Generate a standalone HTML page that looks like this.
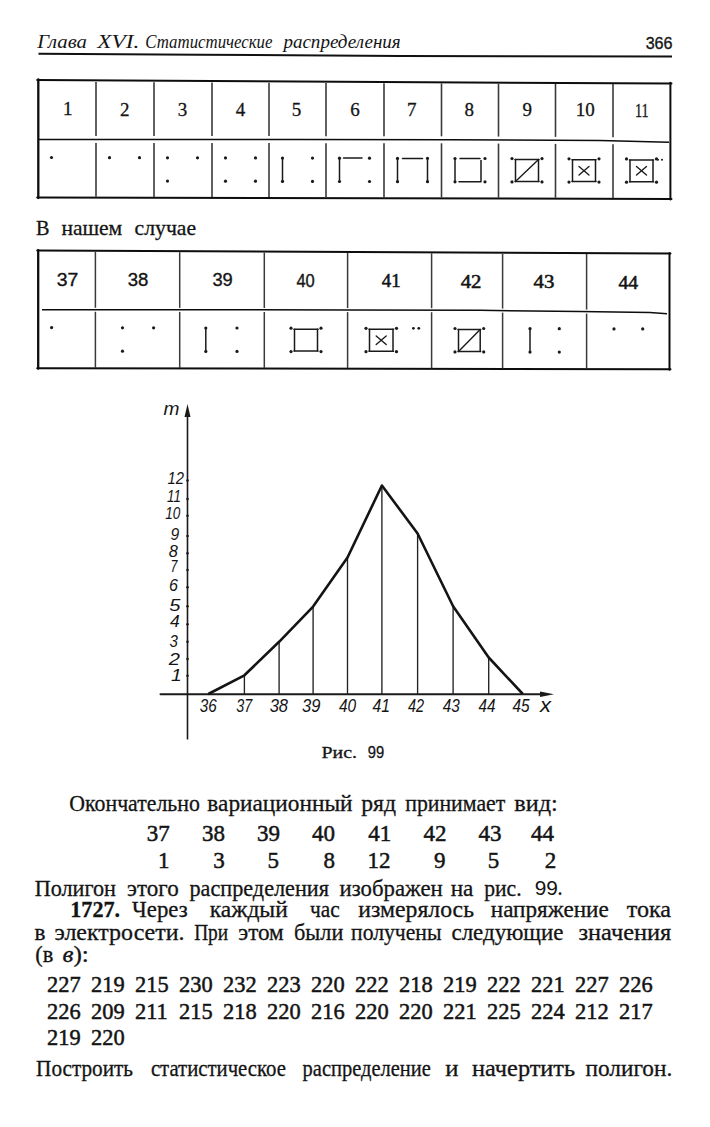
<!DOCTYPE html>
<html><head><meta charset="utf-8"><title>page</title>
<style>
html,body{margin:0;padding:0;background:#fff;}
body{width:710px;height:1127px;overflow:hidden;position:relative;}
svg{position:absolute;left:0;top:0;display:block;font-family:"Liberation Serif", serif;}
svg text{fill:#141414;stroke:#141414;stroke-width:0.3px;}
</style></head><body>
<svg width="710" height="1127" viewBox="0 0 710 1127">
<rect width="710" height="1127" fill="#ffffff"/>
<text x="37.32" y="48.4" font-size="19.5" style='stroke-width:0px;' font-style="italic" textLength="49.58" lengthAdjust="spacingAndGlyphs">Глава</text>
<text x="97.34" y="48.4" font-size="19.5" style='stroke-width:0px;' font-style="italic" textLength="42.11" lengthAdjust="spacingAndGlyphs">XVI.</text>
<text x="145.34" y="48.4" font-size="19.5" style='stroke-width:0px;' font-style="italic" textLength="127.15" lengthAdjust="spacingAndGlyphs">Статистические</text>
<text x="283.40" y="48.4" font-size="19.5" style='stroke-width:0px;' font-style="italic" textLength="117.33" lengthAdjust="spacingAndGlyphs">распределения</text>
<text x="645.65" y="49.0" font-size="17" style='font-family:"Liberation Sans", sans-serif;stroke-width:0.35px;' textLength="26.88" lengthAdjust="spacingAndGlyphs">366</text>
<polyline points="38.5,53.7 200,54.8 400,55.9 672,56.5" fill="none" stroke="#111" stroke-width="2"/>
<line x1="37.2" y1="80.0" x2="671.5" y2="83.6" stroke="#0d0d0d" stroke-width="2" stroke-linecap="round"/>
<polyline points="38,139.4 300,139.6 450,139.8 600,140.6 669,142.2" fill="none" stroke="#0d0d0d" stroke-width="1.5"/>
<line x1="37.2" y1="197.6" x2="671.5" y2="198.9" stroke="#0d0d0d" stroke-width="2" stroke-linecap="round"/>
<line x1="38.3" y1="79.3" x2="38.3" y2="198.1" stroke="#0d0d0d" stroke-width="2.3" stroke-linecap="round"/>
<line x1="670.4" y1="82.8" x2="670.4" y2="199.6" stroke="#0d0d0d" stroke-width="2" stroke-linecap="round"/>
<line x1="96.0" y1="82.0" x2="96.0" y2="136.0" stroke="#3a3a3a" stroke-width="1.6" stroke-linecap="butt"/>
<line x1="96.0" y1="143.0" x2="96.0" y2="196.7" stroke="#3a3a3a" stroke-width="1.6" stroke-linecap="butt"/>
<line x1="154.0" y1="82.3" x2="154.0" y2="136.0" stroke="#3a3a3a" stroke-width="1.6" stroke-linecap="butt"/>
<line x1="154.0" y1="143.0" x2="154.0" y2="196.9" stroke="#3a3a3a" stroke-width="1.6" stroke-linecap="butt"/>
<line x1="212.0" y1="82.5" x2="212.0" y2="136.1" stroke="#3a3a3a" stroke-width="1.6" stroke-linecap="butt"/>
<line x1="212.0" y1="143.1" x2="212.0" y2="197.0" stroke="#3a3a3a" stroke-width="1.6" stroke-linecap="butt"/>
<line x1="269.0" y1="82.7" x2="269.0" y2="136.1" stroke="#3a3a3a" stroke-width="1.6" stroke-linecap="butt"/>
<line x1="269.0" y1="143.1" x2="269.0" y2="197.1" stroke="#3a3a3a" stroke-width="1.6" stroke-linecap="butt"/>
<line x1="326.0" y1="82.9" x2="326.0" y2="136.2" stroke="#3a3a3a" stroke-width="1.6" stroke-linecap="butt"/>
<line x1="326.0" y1="143.2" x2="326.0" y2="197.3" stroke="#3a3a3a" stroke-width="1.6" stroke-linecap="butt"/>
<line x1="384.0" y1="83.2" x2="384.0" y2="136.2" stroke="#3a3a3a" stroke-width="1.6" stroke-linecap="butt"/>
<line x1="384.0" y1="143.2" x2="384.0" y2="197.4" stroke="#3a3a3a" stroke-width="1.6" stroke-linecap="butt"/>
<line x1="441.5" y1="83.4" x2="441.5" y2="136.3" stroke="#3a3a3a" stroke-width="1.6" stroke-linecap="butt"/>
<line x1="441.5" y1="143.3" x2="441.5" y2="197.6" stroke="#3a3a3a" stroke-width="1.6" stroke-linecap="butt"/>
<line x1="498.5" y1="83.6" x2="498.5" y2="136.6" stroke="#3a3a3a" stroke-width="1.6" stroke-linecap="butt"/>
<line x1="498.5" y1="143.6" x2="498.5" y2="197.7" stroke="#3a3a3a" stroke-width="1.6" stroke-linecap="butt"/>
<line x1="555.5" y1="83.8" x2="555.5" y2="136.9" stroke="#3a3a3a" stroke-width="1.6" stroke-linecap="butt"/>
<line x1="555.5" y1="143.9" x2="555.5" y2="197.8" stroke="#3a3a3a" stroke-width="1.6" stroke-linecap="butt"/>
<line x1="613.0" y1="84.1" x2="613.0" y2="137.2" stroke="#3a3a3a" stroke-width="1.6" stroke-linecap="butt"/>
<line x1="613.0" y1="144.2" x2="613.0" y2="198.0" stroke="#3a3a3a" stroke-width="1.6" stroke-linecap="butt"/>
<text x="67.70" y="115.4" font-size="19" text-anchor="middle">1</text>
<text x="124.70" y="115.5" font-size="19" text-anchor="middle">2</text>
<text x="182.40" y="115.6" font-size="19" text-anchor="middle">3</text>
<text x="240.50" y="115.7" font-size="19" text-anchor="middle">4</text>
<text x="296.50" y="115.8" font-size="19" text-anchor="middle">5</text>
<text x="355.10" y="115.9" font-size="19" text-anchor="middle">6</text>
<text x="411.70" y="116.0" font-size="19" text-anchor="middle">7</text>
<text x="469.20" y="116.2" font-size="19" text-anchor="middle">8</text>
<text x="527.20" y="116.3" font-size="19" text-anchor="middle">9</text>
<text x="585.30" y="116.4" font-size="19" text-anchor="middle">10</text>
<text x="635.01" y="116.5" font-size="19" textLength="13.66" lengthAdjust="spacingAndGlyphs">11</text>
<circle cx="51.5" cy="157.5" r="1.6" fill="#1a1a1a"/>
<circle cx="109.5" cy="157.7" r="1.6" fill="#1a1a1a"/>
<circle cx="139.5" cy="157.7" r="1.6" fill="#1a1a1a"/>
<circle cx="167.5" cy="157.8" r="1.6" fill="#1a1a1a"/>
<circle cx="197.5" cy="157.8" r="1.6" fill="#1a1a1a"/>
<circle cx="167.5" cy="181.1" r="1.6" fill="#1a1a1a"/>
<circle cx="225.5" cy="157.9" r="1.6" fill="#1a1a1a"/>
<circle cx="255.5" cy="157.9" r="1.6" fill="#1a1a1a"/>
<circle cx="225.5" cy="181.2" r="1.6" fill="#1a1a1a"/>
<circle cx="255.5" cy="181.2" r="1.6" fill="#1a1a1a"/>
<circle cx="282.5" cy="158.1" r="1.6" fill="#1a1a1a"/>
<circle cx="312.5" cy="158.1" r="1.6" fill="#1a1a1a"/>
<circle cx="282.5" cy="181.4" r="1.6" fill="#1a1a1a"/>
<circle cx="312.5" cy="181.4" r="1.6" fill="#1a1a1a"/>
<line x1="282.5" y1="158.1" x2="282.5" y2="181.4" stroke="#1a1a1a" stroke-width="1.5" stroke-linecap="round"/>
<circle cx="339.5" cy="158.2" r="1.6" fill="#1a1a1a"/>
<circle cx="369.5" cy="158.2" r="1.6" fill="#1a1a1a"/>
<circle cx="339.5" cy="181.5" r="1.6" fill="#1a1a1a"/>
<circle cx="369.5" cy="181.5" r="1.6" fill="#1a1a1a"/>
<line x1="339.5" y1="158.2" x2="339.5" y2="181.5" stroke="#1a1a1a" stroke-width="1.5" stroke-linecap="round"/>
<line x1="343.5" y1="157.9" x2="362.0" y2="157.9" stroke="#1a1a1a" stroke-width="1.5" stroke-linecap="round"/>
<circle cx="397.5" cy="158.4" r="1.6" fill="#1a1a1a"/>
<circle cx="427.5" cy="158.4" r="1.6" fill="#1a1a1a"/>
<circle cx="397.5" cy="181.7" r="1.6" fill="#1a1a1a"/>
<circle cx="427.5" cy="181.7" r="1.6" fill="#1a1a1a"/>
<line x1="397.5" y1="158.4" x2="397.5" y2="181.7" stroke="#1a1a1a" stroke-width="1.5" stroke-linecap="round"/>
<line x1="402.5" y1="158.4" x2="422.5" y2="158.4" stroke="#1a1a1a" stroke-width="1.5" stroke-linecap="round"/>
<line x1="427.5" y1="160.4" x2="427.5" y2="180.7" stroke="#1a1a1a" stroke-width="1.5" stroke-linecap="round"/>
<circle cx="455.0" cy="158.5" r="1.6" fill="#1a1a1a"/>
<circle cx="485.0" cy="158.5" r="1.6" fill="#1a1a1a"/>
<circle cx="455.0" cy="181.8" r="1.6" fill="#1a1a1a"/>
<circle cx="485.0" cy="181.8" r="1.6" fill="#1a1a1a"/>
<line x1="455.0" y1="158.5" x2="455.0" y2="181.8" stroke="#1a1a1a" stroke-width="1.5" stroke-linecap="round"/>
<line x1="460.0" y1="158.5" x2="480.0" y2="158.5" stroke="#1a1a1a" stroke-width="1.5" stroke-linecap="round"/>
<line x1="481.0" y1="160.5" x2="481.0" y2="180.8" stroke="#1a1a1a" stroke-width="1.5" stroke-linecap="round"/>
<line x1="459.0" y1="181.8" x2="481.0" y2="181.8" stroke="#1a1a1a" stroke-width="1.5" stroke-linecap="round"/>
<circle cx="512.0" cy="158.6" r="1.6" fill="#1a1a1a"/>
<circle cx="542.0" cy="158.6" r="1.6" fill="#1a1a1a"/>
<circle cx="512.0" cy="181.9" r="1.6" fill="#1a1a1a"/>
<circle cx="542.0" cy="181.9" r="1.6" fill="#1a1a1a"/>
<line x1="515.5" y1="159.6" x2="515.5" y2="181.4" stroke="#1a1a1a" stroke-width="1.5" stroke-linecap="round"/>
<line x1="538.5" y1="159.6" x2="538.5" y2="181.4" stroke="#1a1a1a" stroke-width="1.5" stroke-linecap="round"/>
<line x1="515.0" y1="159.6" x2="539.0" y2="159.6" stroke="#1a1a1a" stroke-width="1.5" stroke-linecap="round"/>
<line x1="515.0" y1="181.4" x2="539.0" y2="181.4" stroke="#1a1a1a" stroke-width="1.5" stroke-linecap="round"/>
<line x1="516.5" y1="180.4" x2="537.5" y2="160.6" stroke="#1a1a1a" stroke-width="1.4" stroke-linecap="round"/>
<circle cx="569.0" cy="158.8" r="1.6" fill="#1a1a1a"/>
<circle cx="599.0" cy="158.8" r="1.6" fill="#1a1a1a"/>
<circle cx="569.0" cy="182.1" r="1.6" fill="#1a1a1a"/>
<circle cx="599.0" cy="182.1" r="1.6" fill="#1a1a1a"/>
<line x1="572.5" y1="159.8" x2="572.5" y2="181.6" stroke="#1a1a1a" stroke-width="1.5" stroke-linecap="round"/>
<line x1="595.5" y1="159.8" x2="595.5" y2="181.6" stroke="#1a1a1a" stroke-width="1.5" stroke-linecap="round"/>
<line x1="572.0" y1="159.8" x2="596.0" y2="159.8" stroke="#1a1a1a" stroke-width="1.5" stroke-linecap="round"/>
<line x1="572.0" y1="181.6" x2="596.0" y2="181.6" stroke="#1a1a1a" stroke-width="1.5" stroke-linecap="round"/>
<line x1="579.0" y1="166.4" x2="589.0" y2="175.0" stroke="#1a1a1a" stroke-width="1.35" stroke-linecap="round"/>
<line x1="579.0" y1="175.0" x2="589.0" y2="166.4" stroke="#1a1a1a" stroke-width="1.35" stroke-linecap="round"/>
<circle cx="626.5" cy="158.9" r="1.6" fill="#1a1a1a"/>
<circle cx="656.5" cy="158.9" r="1.6" fill="#1a1a1a"/>
<circle cx="626.5" cy="182.2" r="1.6" fill="#1a1a1a"/>
<circle cx="656.5" cy="182.2" r="1.6" fill="#1a1a1a"/>
<line x1="630.0" y1="159.9" x2="630.0" y2="181.7" stroke="#1a1a1a" stroke-width="1.5" stroke-linecap="round"/>
<line x1="653.0" y1="159.9" x2="653.0" y2="181.7" stroke="#1a1a1a" stroke-width="1.5" stroke-linecap="round"/>
<line x1="629.5" y1="159.9" x2="653.5" y2="159.9" stroke="#1a1a1a" stroke-width="1.5" stroke-linecap="round"/>
<line x1="629.5" y1="181.7" x2="653.5" y2="181.7" stroke="#1a1a1a" stroke-width="1.5" stroke-linecap="round"/>
<line x1="636.5" y1="166.5" x2="646.5" y2="175.1" stroke="#1a1a1a" stroke-width="1.35" stroke-linecap="round"/>
<line x1="636.5" y1="175.1" x2="646.5" y2="166.5" stroke="#1a1a1a" stroke-width="1.35" stroke-linecap="round"/>
<circle cx="658.0" cy="159.7" r="1.0" fill="#1a1a1a"/>
<circle cx="662.0" cy="159.7" r="1.0" fill="#1a1a1a"/>
<text x="36.06" y="234.6" font-size="21.5" textLength="13.51" lengthAdjust="spacingAndGlyphs">В</text>
<text x="61.40" y="234.6" font-size="21.5" textLength="60.87" lengthAdjust="spacingAndGlyphs">нашем</text>
<text x="134.59" y="234.6" font-size="21.5" textLength="61.53" lengthAdjust="spacingAndGlyphs">случае</text>
<line x1="37.2" y1="250.6" x2="670.5" y2="253.4" stroke="#0d0d0d" stroke-width="2" stroke-linecap="round"/>
<polyline points="42,309.7 350,309.9 480,310.3 580,311.5 650,312.4 667,313.7" fill="none" stroke="#0d0d0d" stroke-width="1.5"/>
<line x1="37.2" y1="368.2" x2="670.5" y2="369.2" stroke="#0d0d0d" stroke-width="2" stroke-linecap="round"/>
<line x1="38.2" y1="250.1" x2="38.2" y2="368.7" stroke="#0d0d0d" stroke-width="2.3" stroke-linecap="round"/>
<line x1="669.5" y1="253.1" x2="669.5" y2="369.7" stroke="#0d0d0d" stroke-width="2" stroke-linecap="round"/>
<line x1="95.4" y1="251.9" x2="95.4" y2="307.8" stroke="#3a3a3a" stroke-width="1.5" stroke-linecap="butt"/>
<line x1="95.4" y1="311.8" x2="95.4" y2="367.8" stroke="#3a3a3a" stroke-width="1.5" stroke-linecap="butt"/>
<line x1="179.7" y1="252.2" x2="179.7" y2="307.9" stroke="#3a3a3a" stroke-width="1.5" stroke-linecap="butt"/>
<line x1="179.7" y1="311.9" x2="179.7" y2="368.0" stroke="#3a3a3a" stroke-width="1.5" stroke-linecap="butt"/>
<line x1="264.3" y1="252.6" x2="264.3" y2="308.0" stroke="#3a3a3a" stroke-width="1.5" stroke-linecap="butt"/>
<line x1="264.3" y1="312.0" x2="264.3" y2="368.1" stroke="#3a3a3a" stroke-width="1.5" stroke-linecap="butt"/>
<line x1="347.6" y1="253.0" x2="347.6" y2="308.1" stroke="#3a3a3a" stroke-width="1.5" stroke-linecap="butt"/>
<line x1="347.6" y1="312.1" x2="347.6" y2="368.2" stroke="#3a3a3a" stroke-width="1.5" stroke-linecap="butt"/>
<line x1="431.6" y1="253.3" x2="431.6" y2="308.2" stroke="#3a3a3a" stroke-width="1.5" stroke-linecap="butt"/>
<line x1="431.6" y1="312.2" x2="431.6" y2="368.4" stroke="#3a3a3a" stroke-width="1.5" stroke-linecap="butt"/>
<line x1="502.6" y1="253.7" x2="502.6" y2="308.6" stroke="#3a3a3a" stroke-width="1.5" stroke-linecap="butt"/>
<line x1="502.6" y1="312.6" x2="502.6" y2="368.5" stroke="#3a3a3a" stroke-width="1.5" stroke-linecap="butt"/>
<line x1="586.6" y1="254.0" x2="586.6" y2="309.6" stroke="#3a3a3a" stroke-width="1.5" stroke-linecap="butt"/>
<line x1="586.6" y1="313.6" x2="586.6" y2="368.7" stroke="#3a3a3a" stroke-width="1.5" stroke-linecap="butt"/>
<text x="56.67" y="285.5" font-size="17.5" style='font-family:"Liberation Sans", sans-serif;stroke-width:0.35px;' textLength="21.55" lengthAdjust="spacingAndGlyphs">37</text>
<text x="127.72" y="285.8" font-size="17.5" style='font-family:"Liberation Sans", sans-serif;stroke-width:0.35px;' textLength="20.67" lengthAdjust="spacingAndGlyphs">38</text>
<text x="212.44" y="286.0" font-size="17.5" style='font-family:"Liberation Sans", sans-serif;stroke-width:0.35px;' textLength="20.34" lengthAdjust="spacingAndGlyphs">39</text>
<text x="296.40" y="287.3" font-size="17.5" style='font-family:"Liberation Sans", sans-serif;stroke-width:0.35px;' textLength="18.32" lengthAdjust="spacingAndGlyphs">40</text>
<text x="381.80" y="286.9" font-size="19" style='stroke-width:0.55px;' textLength="18.79" lengthAdjust="spacingAndGlyphs">41</text>
<text x="460.70" y="287.5" font-size="19" style='stroke-width:0.55px;' textLength="20.79" lengthAdjust="spacingAndGlyphs">42</text>
<text x="533.60" y="288.0" font-size="19" style='stroke-width:0.55px;' textLength="20.90" lengthAdjust="spacingAndGlyphs">43</text>
<text x="618.40" y="288.6" font-size="19" style='stroke-width:0.55px;' textLength="19.70" lengthAdjust="spacingAndGlyphs">44</text>
<circle cx="51.6" cy="327.6" r="1.6" fill="#1a1a1a"/>
<circle cx="122.5" cy="327.8" r="1.6" fill="#1a1a1a"/>
<circle cx="153.6" cy="327.8" r="1.6" fill="#1a1a1a"/>
<circle cx="122.5" cy="351.2" r="1.6" fill="#1a1a1a"/>
<circle cx="205.8" cy="328.0" r="1.6" fill="#1a1a1a"/>
<circle cx="237.0" cy="328.0" r="1.6" fill="#1a1a1a"/>
<circle cx="205.8" cy="351.4" r="1.6" fill="#1a1a1a"/>
<circle cx="237.0" cy="351.4" r="1.6" fill="#1a1a1a"/>
<line x1="205.8" y1="328.0" x2="205.8" y2="351.4" stroke="#1a1a1a" stroke-width="1.5" stroke-linecap="round"/>
<circle cx="291.0" cy="328.2" r="1.6" fill="#1a1a1a"/>
<circle cx="321.0" cy="328.2" r="1.6" fill="#1a1a1a"/>
<circle cx="291.0" cy="351.6" r="1.6" fill="#1a1a1a"/>
<circle cx="321.0" cy="351.6" r="1.6" fill="#1a1a1a"/>
<line x1="294.5" y1="329.2" x2="294.5" y2="351.1" stroke="#1a1a1a" stroke-width="1.5" stroke-linecap="round"/>
<line x1="317.5" y1="329.2" x2="317.5" y2="351.1" stroke="#1a1a1a" stroke-width="1.5" stroke-linecap="round"/>
<line x1="294.0" y1="329.2" x2="318.0" y2="329.2" stroke="#1a1a1a" stroke-width="1.5" stroke-linecap="round"/>
<line x1="294.0" y1="351.1" x2="318.0" y2="351.1" stroke="#1a1a1a" stroke-width="1.5" stroke-linecap="round"/>
<circle cx="366.0" cy="328.3" r="1.6" fill="#1a1a1a"/>
<circle cx="396.5" cy="328.3" r="1.6" fill="#1a1a1a"/>
<circle cx="366.0" cy="351.7" r="1.6" fill="#1a1a1a"/>
<circle cx="396.5" cy="351.7" r="1.6" fill="#1a1a1a"/>
<line x1="369.5" y1="329.3" x2="369.5" y2="351.2" stroke="#1a1a1a" stroke-width="1.5" stroke-linecap="round"/>
<line x1="393.0" y1="329.3" x2="393.0" y2="351.2" stroke="#1a1a1a" stroke-width="1.5" stroke-linecap="round"/>
<line x1="369.0" y1="329.3" x2="393.5" y2="329.3" stroke="#1a1a1a" stroke-width="1.5" stroke-linecap="round"/>
<line x1="369.0" y1="351.2" x2="393.5" y2="351.2" stroke="#1a1a1a" stroke-width="1.5" stroke-linecap="round"/>
<line x1="376.2" y1="336.0" x2="386.2" y2="344.6" stroke="#1a1a1a" stroke-width="1.35" stroke-linecap="round"/>
<line x1="376.2" y1="344.6" x2="386.2" y2="336.0" stroke="#1a1a1a" stroke-width="1.35" stroke-linecap="round"/>
<circle cx="413.4" cy="328.3" r="1.4" fill="#1a1a1a"/>
<circle cx="418.8" cy="328.3" r="1.4" fill="#1a1a1a"/>
<circle cx="455.0" cy="328.5" r="1.6" fill="#1a1a1a"/>
<circle cx="483.7" cy="328.5" r="1.6" fill="#1a1a1a"/>
<circle cx="455.0" cy="351.9" r="1.6" fill="#1a1a1a"/>
<circle cx="483.7" cy="351.9" r="1.6" fill="#1a1a1a"/>
<line x1="458.5" y1="329.5" x2="458.5" y2="351.4" stroke="#1a1a1a" stroke-width="1.5" stroke-linecap="round"/>
<line x1="480.2" y1="329.5" x2="480.2" y2="351.4" stroke="#1a1a1a" stroke-width="1.5" stroke-linecap="round"/>
<line x1="458.0" y1="329.5" x2="480.7" y2="329.5" stroke="#1a1a1a" stroke-width="1.5" stroke-linecap="round"/>
<line x1="458.0" y1="351.4" x2="480.7" y2="351.4" stroke="#1a1a1a" stroke-width="1.5" stroke-linecap="round"/>
<line x1="459.5" y1="350.4" x2="479.2" y2="330.5" stroke="#1a1a1a" stroke-width="1.4" stroke-linecap="round"/>
<circle cx="530.0" cy="328.7" r="1.6" fill="#1a1a1a"/>
<circle cx="559.3" cy="328.7" r="1.6" fill="#1a1a1a"/>
<circle cx="530.0" cy="352.1" r="1.6" fill="#1a1a1a"/>
<circle cx="559.3" cy="352.1" r="1.6" fill="#1a1a1a"/>
<line x1="530.0" y1="328.7" x2="530.0" y2="352.1" stroke="#1a1a1a" stroke-width="1.5" stroke-linecap="round"/>
<circle cx="614.0" cy="328.9" r="1.6" fill="#1a1a1a"/>
<circle cx="642.7" cy="328.9" r="1.6" fill="#1a1a1a"/>
<line x1="187.5" y1="414.0" x2="187.5" y2="739.5" stroke="#1a1a1a" stroke-width="1.6" stroke-linecap="butt"/>
<path d="M184.5,417 L187.5,404 L190.5,417 Z" fill="#1a1a1a"/>
<line x1="160.5" y1="694.2" x2="541.0" y2="694.2" stroke="#1a1a1a" stroke-width="2" stroke-linecap="round"/>
<path d="M540,691.4000000000001 L554,694.2 L540,697.0 Z" fill="#1a1a1a"/>
<circle cx="187.5" cy="675.8" r="1.3" fill="#1a1a1a"/>
<circle cx="187.5" cy="659.0" r="1.3" fill="#1a1a1a"/>
<circle cx="187.5" cy="641.7" r="1.3" fill="#1a1a1a"/>
<circle cx="187.5" cy="624.2" r="1.3" fill="#1a1a1a"/>
<circle cx="187.5" cy="606.3" r="1.3" fill="#1a1a1a"/>
<circle cx="187.5" cy="587.2" r="1.3" fill="#1a1a1a"/>
<circle cx="187.5" cy="570.0" r="1.3" fill="#1a1a1a"/>
<circle cx="187.5" cy="553.3" r="1.3" fill="#1a1a1a"/>
<circle cx="187.5" cy="536.0" r="1.3" fill="#1a1a1a"/>
<circle cx="187.5" cy="515.8" r="1.3" fill="#1a1a1a"/>
<circle cx="187.5" cy="499.0" r="1.3" fill="#1a1a1a"/>
<circle cx="187.5" cy="480.6" r="1.3" fill="#1a1a1a"/>
<text x="167.46" y="483.8" font-size="17" style='font-family:"Liberation Sans", sans-serif;stroke-width:0px;' font-style="italic" textLength="16.51" lengthAdjust="spacingAndGlyphs">12</text>
<text x="167.11" y="502.0" font-size="17" style='font-family:"Liberation Sans", sans-serif;stroke-width:0px;' font-style="italic" textLength="13.86" lengthAdjust="spacingAndGlyphs">11</text>
<text x="165.33" y="519.0" font-size="17" style='font-family:"Liberation Sans", sans-serif;stroke-width:0px;' font-style="italic" textLength="15.07" lengthAdjust="spacingAndGlyphs">10</text>
<text x="170.60" y="540.3" font-size="17" style='font-family:"Liberation Sans", sans-serif;stroke-width:0px;' font-style="italic" textLength="8.71" lengthAdjust="spacingAndGlyphs">9</text>
<text x="168.83" y="556.6" font-size="17" style='font-family:"Liberation Sans", sans-serif;stroke-width:0px;' font-style="italic" textLength="9.11" lengthAdjust="spacingAndGlyphs">8</text>
<text x="170.49" y="571.8" font-size="17" style='font-family:"Liberation Sans", sans-serif;stroke-width:0px;' font-style="italic" textLength="6.92" lengthAdjust="spacingAndGlyphs">7</text>
<text x="168.94" y="590.6" font-size="17" style='font-family:"Liberation Sans", sans-serif;stroke-width:0px;' font-style="italic" textLength="8.99" lengthAdjust="spacingAndGlyphs">6</text>
<text x="169.29" y="611.4" font-size="17" style='font-family:"Liberation Sans", sans-serif;stroke-width:0px;' font-style="italic" textLength="11.17" lengthAdjust="spacingAndGlyphs">5</text>
<text x="170.00" y="627.3" font-size="17" style='font-family:"Liberation Sans", sans-serif;stroke-width:0px;' font-style="italic" textLength="9.77" lengthAdjust="spacingAndGlyphs">4</text>
<text x="169.61" y="646.6" font-size="17" style='font-family:"Liberation Sans", sans-serif;stroke-width:0px;' font-style="italic" textLength="8.38" lengthAdjust="spacingAndGlyphs">3</text>
<text x="168.69" y="664.8" font-size="17" style='font-family:"Liberation Sans", sans-serif;stroke-width:0px;' font-style="italic" textLength="11.17" lengthAdjust="spacingAndGlyphs">2</text>
<text x="170.98" y="681.0" font-size="17" style='font-family:"Liberation Sans", sans-serif;stroke-width:0px;' font-style="italic" textLength="10.71" lengthAdjust="spacingAndGlyphs">1</text>
<text x="163.62" y="414.8" font-size="19" style='font-family:"Liberation Sans", sans-serif;stroke-width:0px;' font-style="italic" textLength="15.92" lengthAdjust="spacingAndGlyphs">m</text>
<text x="539.90" y="711.7" font-size="20" style='font-family:"Liberation Sans", sans-serif;stroke-width:0px;' font-style="italic" textLength="11.00" lengthAdjust="spacingAndGlyphs">x</text>
<line x1="244.4" y1="675.3" x2="244.4" y2="694.2" stroke="#222" stroke-width="1.35" stroke-linecap="butt"/>
<line x1="279.1" y1="641.8" x2="279.1" y2="694.2" stroke="#222" stroke-width="1.35" stroke-linecap="butt"/>
<line x1="313.1" y1="606.6" x2="313.1" y2="694.2" stroke="#222" stroke-width="1.35" stroke-linecap="butt"/>
<line x1="347.5" y1="557.5" x2="347.5" y2="694.2" stroke="#222" stroke-width="1.35" stroke-linecap="butt"/>
<line x1="381.9" y1="485.5" x2="381.9" y2="694.2" stroke="#222" stroke-width="1.35" stroke-linecap="butt"/>
<line x1="417.6" y1="533.5" x2="417.6" y2="694.2" stroke="#222" stroke-width="1.35" stroke-linecap="butt"/>
<line x1="453.1" y1="606.3" x2="453.1" y2="694.2" stroke="#222" stroke-width="1.35" stroke-linecap="butt"/>
<line x1="488.7" y1="657.5" x2="488.7" y2="694.2" stroke="#222" stroke-width="1.35" stroke-linecap="butt"/>
<polyline points="208.3,694 244.4,675.3 279.1,641.8 313.1,606.6 347.5,557.5 381.9,485.5 417.6,533.5 453.1,606.3 488.7,657.5 522.8,694" fill="none" stroke="#141414" stroke-width="2.6" stroke-linejoin="round"/>
<text x="199.73" y="711.6" font-size="17.5" style='font-family:"Liberation Sans", sans-serif;stroke-width:0px;' font-style="italic" textLength="16.95" lengthAdjust="spacingAndGlyphs">36</text>
<text x="236.29" y="711.6" font-size="17.5" style='font-family:"Liberation Sans", sans-serif;stroke-width:0px;' font-style="italic" textLength="15.97" lengthAdjust="spacingAndGlyphs">37</text>
<text x="269.65" y="711.6" font-size="17.5" style='font-family:"Liberation Sans", sans-serif;stroke-width:0px;' font-style="italic" textLength="18.38" lengthAdjust="spacingAndGlyphs">38</text>
<text x="301.95" y="711.6" font-size="17.5" style='font-family:"Liberation Sans", sans-serif;stroke-width:0px;' font-style="italic" textLength="18.38" lengthAdjust="spacingAndGlyphs">39</text>
<text x="339.00" y="711.6" font-size="17.5" style='font-family:"Liberation Sans", sans-serif;stroke-width:0px;' font-style="italic" textLength="17.19" lengthAdjust="spacingAndGlyphs">40</text>
<text x="372.50" y="711.6" font-size="17.5" style='font-family:"Liberation Sans", sans-serif;stroke-width:0px;' font-style="italic" textLength="17.50" lengthAdjust="spacingAndGlyphs">41</text>
<text x="408.00" y="711.6" font-size="17.5" style='font-family:"Liberation Sans", sans-serif;stroke-width:0px;' font-style="italic" textLength="16.16" lengthAdjust="spacingAndGlyphs">42</text>
<text x="442.80" y="711.6" font-size="17.5" style='font-family:"Liberation Sans", sans-serif;stroke-width:0px;' font-style="italic" textLength="16.99" lengthAdjust="spacingAndGlyphs">43</text>
<text x="478.50" y="711.6" font-size="17.5" style='font-family:"Liberation Sans", sans-serif;stroke-width:0px;' font-style="italic" textLength="16.99" lengthAdjust="spacingAndGlyphs">44</text>
<text x="512.40" y="711.6" font-size="17.5" style='font-family:"Liberation Sans", sans-serif;stroke-width:0px;' font-style="italic" textLength="17.09" lengthAdjust="spacingAndGlyphs">45</text>
<text x="321.57" y="758.4" font-size="17.5" textLength="35.45" lengthAdjust="spacingAndGlyphs">Рис.</text>
<text x="367.70" y="758.4" font-size="17" style='font-family:"Liberation Sans", sans-serif;' textLength="16.40" lengthAdjust="spacingAndGlyphs">99</text>
<text x="69.33" y="810.9" font-size="22.5" textLength="130.51" lengthAdjust="spacingAndGlyphs">Окончательно</text>
<text x="207.36" y="810.9" font-size="22.5" textLength="145.15" lengthAdjust="spacingAndGlyphs">вариационный</text>
<text x="361.25" y="810.9" font-size="22.5" textLength="34.80" lengthAdjust="spacingAndGlyphs">ряд</text>
<text x="405.23" y="810.9" font-size="22.5" textLength="100.07" lengthAdjust="spacingAndGlyphs">принимает</text>
<text x="514.32" y="810.9" font-size="22.5" textLength="43.56" lengthAdjust="spacingAndGlyphs">вид:</text>
<text x="146.80" y="841.0" font-size="23" style='stroke-width:0.5px;' textLength="23.00" lengthAdjust="spacingAndGlyphs">37</text>
<text x="157.90" y="867.8" font-size="23" style='stroke-width:0.5px;' textLength="11.50" lengthAdjust="spacingAndGlyphs">1</text>
<text x="202.00" y="841.0" font-size="23" style='stroke-width:0.5px;' textLength="23.00" lengthAdjust="spacingAndGlyphs">38</text>
<text x="213.30" y="867.8" font-size="23" style='stroke-width:0.5px;' textLength="11.50" lengthAdjust="spacingAndGlyphs">3</text>
<text x="257.00" y="841.0" font-size="23" style='stroke-width:0.5px;' textLength="23.00" lengthAdjust="spacingAndGlyphs">39</text>
<text x="267.50" y="867.8" font-size="23" style='stroke-width:0.5px;' textLength="11.50" lengthAdjust="spacingAndGlyphs">5</text>
<text x="312.00" y="841.0" font-size="23" style='stroke-width:0.5px;' textLength="23.00" lengthAdjust="spacingAndGlyphs">40</text>
<text x="323.50" y="867.8" font-size="23" style='stroke-width:0.5px;' textLength="11.50" lengthAdjust="spacingAndGlyphs">8</text>
<text x="368.30" y="841.0" font-size="23" style='stroke-width:0.5px;' textLength="23.00" lengthAdjust="spacingAndGlyphs">41</text>
<text x="367.40" y="867.8" font-size="23" style='stroke-width:0.5px;' textLength="23.00" lengthAdjust="spacingAndGlyphs">12</text>
<text x="423.40" y="841.0" font-size="23" style='stroke-width:0.5px;' textLength="23.00" lengthAdjust="spacingAndGlyphs">42</text>
<text x="433.90" y="867.8" font-size="23" style='stroke-width:0.5px;' textLength="11.50" lengthAdjust="spacingAndGlyphs">9</text>
<text x="478.40" y="841.0" font-size="23" style='stroke-width:0.5px;' textLength="23.00" lengthAdjust="spacingAndGlyphs">43</text>
<text x="487.70" y="867.8" font-size="23" style='stroke-width:0.5px;' textLength="11.50" lengthAdjust="spacingAndGlyphs">5</text>
<text x="531.00" y="841.0" font-size="23" style='stroke-width:0.5px;' textLength="23.00" lengthAdjust="spacingAndGlyphs">44</text>
<text x="544.70" y="867.8" font-size="23" style='stroke-width:0.5px;' textLength="11.50" lengthAdjust="spacingAndGlyphs">2</text>
<text x="34.71" y="895.5" font-size="22.5" textLength="81.22" lengthAdjust="spacingAndGlyphs">Полигон</text>
<text x="127.08" y="895.5" font-size="22.5" textLength="51.61" lengthAdjust="spacingAndGlyphs">этого</text>
<text x="189.51" y="895.5" font-size="22.5" textLength="139.38" lengthAdjust="spacingAndGlyphs">распределения</text>
<text x="339.49" y="895.5" font-size="22.5" textLength="103.34" lengthAdjust="spacingAndGlyphs">изображен</text>
<text x="450.67" y="895.5" font-size="22.5" textLength="22.77" lengthAdjust="spacingAndGlyphs">на</text>
<text x="484.24" y="895.5" font-size="22.5" textLength="37.33" lengthAdjust="spacingAndGlyphs">рис.</text>
<text x="534.74" y="895.2" font-size="20" style='font-family:"Liberation Sans", sans-serif;stroke-width:0px;' textLength="23.22" lengthAdjust="spacingAndGlyphs">99</text>
<text x="557.50" y="895.2" font-size="22.5" textLength="5.00" lengthAdjust="spacingAndGlyphs">.</text>
<text x="70.23" y="917.0" font-size="22.5" font-weight="bold" textLength="49.87" lengthAdjust="spacingAndGlyphs">1727.</text>
<text x="132.00" y="917.2" font-size="22.5" textLength="55.63" lengthAdjust="spacingAndGlyphs">Через</text>
<text x="209.65" y="917.2" font-size="22.5" textLength="78.11" lengthAdjust="spacingAndGlyphs">каждый</text>
<text x="310.05" y="917.2" font-size="22.5" textLength="29.73" lengthAdjust="spacingAndGlyphs">час</text>
<text x="358.25" y="917.2" font-size="22.5" textLength="115.73" lengthAdjust="spacingAndGlyphs">измерялось</text>
<text x="490.77" y="917.2" font-size="22.5" textLength="117.94" lengthAdjust="spacingAndGlyphs">напряжение</text>
<text x="626.70" y="917.2" font-size="22.5" textLength="44.40" lengthAdjust="spacingAndGlyphs">тока</text>
<text x="34.57" y="939.5" font-size="22.5" textLength="10.98" lengthAdjust="spacingAndGlyphs">в</text>
<text x="54.54" y="939.5" font-size="22.5" textLength="129.95" lengthAdjust="spacingAndGlyphs">электросети.</text>
<text x="194.14" y="939.5" font-size="22.5" textLength="34.03" lengthAdjust="spacingAndGlyphs">При</text>
<text x="238.27" y="939.5" font-size="22.5" textLength="45.50" lengthAdjust="spacingAndGlyphs">этом</text>
<text x="294.01" y="939.5" font-size="22.5" textLength="49.32" lengthAdjust="spacingAndGlyphs">были</text>
<text x="351.04" y="939.5" font-size="22.5" textLength="90.47" lengthAdjust="spacingAndGlyphs">получены</text>
<text x="451.48" y="939.5" font-size="22.5" textLength="112.00" lengthAdjust="spacingAndGlyphs">следующие</text>
<text x="578.42" y="939.5" font-size="22.5" textLength="92.90" lengthAdjust="spacingAndGlyphs">значения</text>
<text x="35.20" y="961.5" font-size="22.5" textLength="18.12" lengthAdjust="spacingAndGlyphs">(в</text>
<text x="62.50" y="961.5" font-size="22.5" textLength="26.40" lengthAdjust="spacingAndGlyphs"><tspan font-style="italic">в</tspan>):</text>
<text x="47.02" y="992.0" font-size="23" style='stroke-width:0.5px;' textLength="33.64" lengthAdjust="spacingAndGlyphs">227</text>
<text x="91.03" y="992.0" font-size="23" style='stroke-width:0.5px;' textLength="33.64" lengthAdjust="spacingAndGlyphs">219</text>
<text x="135.03" y="992.0" font-size="23" style='stroke-width:0.5px;' textLength="33.64" lengthAdjust="spacingAndGlyphs">215</text>
<text x="179.03" y="992.0" font-size="23" style='stroke-width:0.5px;' textLength="33.64" lengthAdjust="spacingAndGlyphs">230</text>
<text x="223.03" y="992.0" font-size="23" style='stroke-width:0.5px;' textLength="33.64" lengthAdjust="spacingAndGlyphs">232</text>
<text x="267.02" y="992.0" font-size="23" style='stroke-width:0.5px;' textLength="33.64" lengthAdjust="spacingAndGlyphs">223</text>
<text x="311.02" y="992.0" font-size="23" style='stroke-width:0.5px;' textLength="33.64" lengthAdjust="spacingAndGlyphs">220</text>
<text x="355.02" y="992.0" font-size="23" style='stroke-width:0.5px;' textLength="33.64" lengthAdjust="spacingAndGlyphs">222</text>
<text x="399.02" y="992.0" font-size="23" style='stroke-width:0.5px;' textLength="33.64" lengthAdjust="spacingAndGlyphs">218</text>
<text x="443.02" y="992.0" font-size="23" style='stroke-width:0.5px;' textLength="33.64" lengthAdjust="spacingAndGlyphs">219</text>
<text x="487.02" y="992.0" font-size="23" style='stroke-width:0.5px;' textLength="33.64" lengthAdjust="spacingAndGlyphs">222</text>
<text x="531.02" y="992.0" font-size="23" style='stroke-width:0.5px;' textLength="33.64" lengthAdjust="spacingAndGlyphs">221</text>
<text x="575.02" y="992.0" font-size="23" style='stroke-width:0.5px;' textLength="33.64" lengthAdjust="spacingAndGlyphs">227</text>
<text x="619.02" y="992.0" font-size="23" style='stroke-width:0.5px;' textLength="33.64" lengthAdjust="spacingAndGlyphs">226</text>
<text x="47.02" y="1018.5" font-size="23" style='stroke-width:0.5px;' textLength="33.64" lengthAdjust="spacingAndGlyphs">226</text>
<text x="91.03" y="1018.5" font-size="23" style='stroke-width:0.5px;' textLength="33.64" lengthAdjust="spacingAndGlyphs">209</text>
<text x="135.03" y="1018.5" font-size="23" style='stroke-width:0.5px;' textLength="32.81" lengthAdjust="spacingAndGlyphs">211</text>
<text x="179.03" y="1018.5" font-size="23" style='stroke-width:0.5px;' textLength="33.64" lengthAdjust="spacingAndGlyphs">215</text>
<text x="223.03" y="1018.5" font-size="23" style='stroke-width:0.5px;' textLength="33.64" lengthAdjust="spacingAndGlyphs">218</text>
<text x="267.02" y="1018.5" font-size="23" style='stroke-width:0.5px;' textLength="33.64" lengthAdjust="spacingAndGlyphs">220</text>
<text x="311.02" y="1018.5" font-size="23" style='stroke-width:0.5px;' textLength="33.64" lengthAdjust="spacingAndGlyphs">216</text>
<text x="355.02" y="1018.5" font-size="23" style='stroke-width:0.5px;' textLength="33.64" lengthAdjust="spacingAndGlyphs">220</text>
<text x="399.02" y="1018.5" font-size="23" style='stroke-width:0.5px;' textLength="33.64" lengthAdjust="spacingAndGlyphs">220</text>
<text x="443.02" y="1018.5" font-size="23" style='stroke-width:0.5px;' textLength="33.64" lengthAdjust="spacingAndGlyphs">221</text>
<text x="487.02" y="1018.5" font-size="23" style='stroke-width:0.5px;' textLength="33.64" lengthAdjust="spacingAndGlyphs">225</text>
<text x="531.02" y="1018.5" font-size="23" style='stroke-width:0.5px;' textLength="33.64" lengthAdjust="spacingAndGlyphs">224</text>
<text x="575.02" y="1018.5" font-size="23" style='stroke-width:0.5px;' textLength="33.64" lengthAdjust="spacingAndGlyphs">212</text>
<text x="619.02" y="1018.5" font-size="23" style='stroke-width:0.5px;' textLength="33.64" lengthAdjust="spacingAndGlyphs">217</text>
<text x="47.02" y="1044.8" font-size="23" style='stroke-width:0.5px;' textLength="33.64" lengthAdjust="spacingAndGlyphs">219</text>
<text x="91.03" y="1044.8" font-size="23" style='stroke-width:0.5px;' textLength="33.64" lengthAdjust="spacingAndGlyphs">220</text>
<text x="36.06" y="1075.8" font-size="22.5" textLength="97.00" lengthAdjust="spacingAndGlyphs">Построить</text>
<text x="150.88" y="1075.8" font-size="22.5" textLength="135.08" lengthAdjust="spacingAndGlyphs">статистическое</text>
<text x="302.59" y="1075.8" font-size="22.5" textLength="128.25" lengthAdjust="spacingAndGlyphs">распределение</text>
<text x="445.20" y="1075.8" font-size="22.5" textLength="13.25" lengthAdjust="spacingAndGlyphs">и</text>
<text x="472.02" y="1075.8" font-size="22.5" textLength="103.07" lengthAdjust="spacingAndGlyphs">начертить</text>
<text x="585.57" y="1075.8" font-size="22.5" textLength="86.72" lengthAdjust="spacingAndGlyphs">полигон.</text>
</svg>
</body></html>
